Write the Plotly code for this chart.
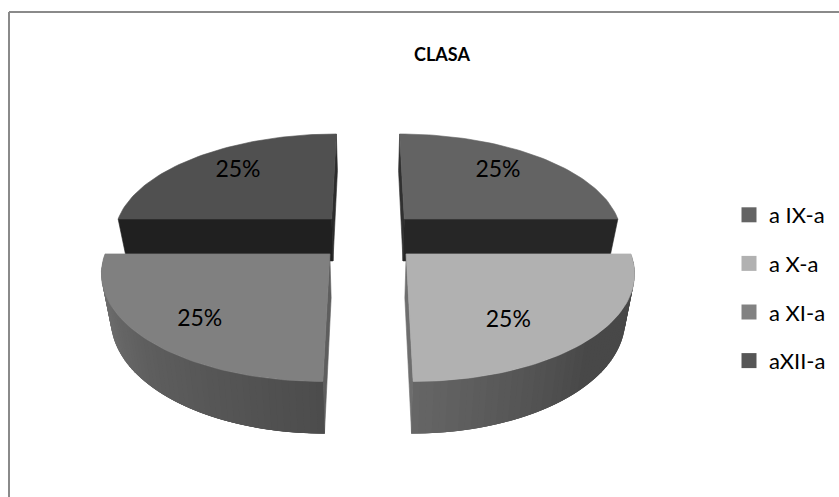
import numpy as np
import plotly.graph_objects as go

# --- data -------------------------------------------------------------
categories = ["a IX-a", "a X-a", "a XI-a", "aXII-a"]
values = [25, 25, 25, 25]
title_text = "CLASA"

# --- styles -----------------------------------------------------------
top_colors = ["#636363", "#b1b1b1", "#808080", "#505050"]
legend_colors = ["#646464", "#b1b1b1", "#828282", "#565656"]
flat_colors = {0: "#262626", 3: "#202020"}      # front walls of the rear slices
inner_colors = ["#303030", "#6e6e6e", "#5e5e5e", "#2c2c2c"]
rim_stops = {1: ("#484848", "#484848", "#666666"),
             2: ("#4c4c4c", "#5e5e5e", "#787878")}
label_nudge = [(4, -6), (-12, 14), (-16, 13), (-4, -6)]
FONT = "Lato"

# --- projection of the tilted disc -----------------------------------
CX, CY, RX, RY = 368.0, 236.0, 219.0, 102.5
PERSP, EXPLODE, DEPTH, SHRINK = 0.15, 0.17, 43.0, 0.965


def project(u, v, lower=False):
    u, v = np.asarray(u, float), np.asarray(v, float)
    s = 1.0 / (1.0 - PERSP * v)
    x = RX * u * s
    y = RY * v * s
    if lower:
        x = x * SHRINK
        y = y + DEPTH * s
    return CX + x, CY + y


fig = go.Figure()


def poly(xs, ys, color, lw=0.6):
    fig.add_trace(go.Scatter(
        x=list(xs), y=list(ys), mode="lines", fill="toself", fillcolor=color,
        line=dict(color=color, width=lw), hoverinfo="skip", showlegend=False))


def hexmix(a, b, f):
    ca = [int(a[i:i + 2], 16) for i in (1, 3, 5)]
    cb = [int(b[i:i + 2], 16) for i in (1, 3, 5)]
    return "#%02x%02x%02x" % tuple(int(round(p + (q - p) * f)) for p, q in zip(ca, cb))


def wall(p, q, color, lw=0.6):
    """vertical wall between world points p and q"""
    x1, y1 = project(*p)
    x2, y2 = project(*q)
    x3, y3 = project(*q, lower=True)
    x4, y4 = project(*p, lower=True)
    poly([x1, x2, x3, x4, x1], [y1, y2, y3, y4, y1], color, lw)


edges = np.cumsum([0] + values) / sum(values) * 2 * np.pi
label_x, label_y, label_t = [], [], []

# which radial edge of each slice borders the vertical centre gap
inner_edge = {0: 0, 1: 1, 2: 0, 3: 1}

# rear slices first, then the front ones
for i in [0, 3, 1, 2]:
    a, b = edges[i], edges[i + 1]
    mid = (a + b) / 2
    off = EXPLODE * np.sqrt(2)
    ou, ov = off * np.sin(mid), -off * np.cos(mid)
    t = np.linspace(a, b, 61)
    ru, rv = ou + np.sin(t), ov - np.cos(t)
    apex = (ou, ov)
    inner = (a, b)[inner_edge[i]]
    wall(apex, (ou + np.sin(inner), ov - np.cos(inner)), inner_colors[i])
    if i in flat_colors:
        # straight radial wall facing the viewer
        flat = (a, b)[1 - inner_edge[i]]
        wall(apex, (ou + np.sin(flat), ov - np.cos(flat)), flat_colors[i])
    else:
        # curved rim, shaded in narrow overlapping strips
        c0, c1, c2 = rim_stops[i]
        n = len(t) - 1
        order = range(n) if i == 1 else range(n - 1, -1, -1)
        for k in order:
            f = (k + 0.5) / n
            col = hexmix(c0, c1, f * 2) if f < 0.5 else hexmix(c1, c2, f * 2 - 1)
            if i == 1:
                h, j = k, min(k + 3, n)
            else:
                h, j = max(k - 3, 0), k + 1
            wall((ru[h], rv[h]), (ru[j], rv[j]), col, 0)
    # top surface
    sx, sy = project(np.r_[ou, ru, ou], np.r_[ov, rv, ov])
    poly(sx, sy, top_colors[i])
    # label
    lu, lv = ou + 0.65 * np.sin(mid), ov - 0.65 * np.cos(mid)
    lx, ly = project(lu, lv)
    label_x.append(float(lx) + label_nudge[i][0])
    label_y.append(float(ly) + label_nudge[i][1])
    label_t.append(f"{values[i] / sum(values):.0%}")

fig.add_trace(go.Scatter(
    x=label_x, y=label_y, text=label_t, mode="text", textposition="middle center",
    textfont=dict(family=FONT, size=23, color="#000000"),
    hoverinfo="skip", showlegend=False))

# legend entries
for name, col in zip(categories, legend_colors):
    fig.add_trace(go.Scatter(
        x=[None], y=[None], mode="markers", name=name, legendgroup=name,
        marker=dict(symbol="square", size=15, color=col)))

fig.update_layout(
    width=839, height=497, margin=dict(l=0, r=0, t=0, b=0),
    paper_bgcolor="#ffffff", plot_bgcolor="#ffffff",
    xaxis=dict(range=[0, 839], visible=False, fixedrange=True),
    yaxis=dict(range=[497, 0], visible=False, fixedrange=True),
    title=dict(text=f"<b>{title_text}</b>", x=442 / 839, y=1 - 55 / 497,
               xanchor="center", yanchor="middle",
               font=dict(family=FONT, size=18, color="#000000")),
    legend=dict(x=729 / 839, y=1 - 194 / 497, xanchor="left", yanchor="top",
                font=dict(family=FONT, size=22, color="#000000"),
                tracegroupgap=17, itemwidth=30, bgcolor="rgba(0,0,0,0)",
                traceorder="grouped"),
    shapes=[
        dict(type="line", xref="paper", yref="paper", x0=9 / 839, x1=1,
             y0=1 - 12 / 497, y1=1 - 12 / 497, line=dict(color="#8a8a8a", width=2)),
        dict(type="line", xref="paper", yref="paper", x0=9 / 839, x1=9 / 839,
             y0=0, y1=1 - 12 / 497, line=dict(color="#8a8a8a", width=2)),
    ],
)

fig.write_html("out.html", config={"displayModeBar": False},
               post_script="document.body.style.margin='0';document.documentElement.style.overflow='hidden';")
